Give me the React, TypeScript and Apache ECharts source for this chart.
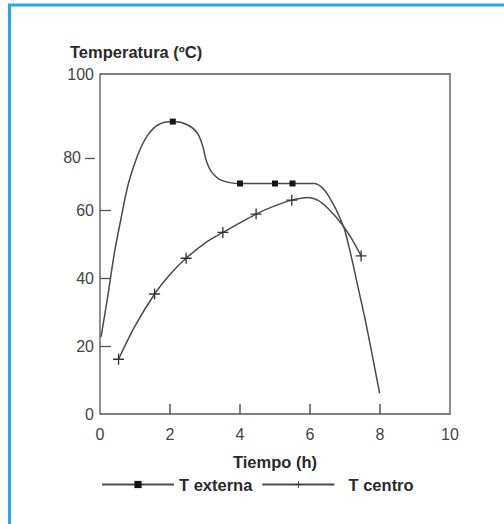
import React, { useEffect, useRef } from "react";
import * as echarts from "echarts";

// T externa (external temperature) – x: hours, y: °C, mark: 1 = marker drawn
const extX = [0.03, 0.22, 0.41, 0.61, 0.79, 0.99, 1.18, 1.37, 1.65, 2.08, 2.51, 2.79, 2.94, 3.03, 3.18, 3.46, 4.0, 5.0, 5.5, 6.13, 6.41, 6.65, 6.84, 6.99, 7.18, 7.37, 7.56, 7.75, 7.99];
const extY = [22.7, 34.5, 47.3, 58.0, 66.9, 73.7, 78.6, 82.1, 85.0, 86.0, 85.0, 82.5, 78.6, 74.7, 71.3, 68.8, 67.8, 67.8, 67.8, 67.8, 65.9, 62.0, 58.0, 54.1, 46.3, 37.4, 28.6, 18.8, 6.1];
const extMark = [0, 0, 0, 0, 0, 0, 0, 0, 0, 1, 0, 0, 0, 0, 0, 0, 1, 1, 1, 0, 0, 0, 0, 0, 0, 0, 0, 0, 0];

// T centro (core temperature)
const cenX = [0.53, 0.99, 1.56, 2.03, 2.46, 2.99, 3.51, 4.46, 4.99, 5.48, 5.94, 6.22, 6.51, 6.89, 7.18, 7.46];
const cenY = [16.1, 25.7, 35.3, 41.4, 45.8, 50.2, 53.4, 58.8, 61.2, 62.9, 63.7, 62.9, 60.5, 56.1, 51.7, 46.5];
const cenMark = [1, 0, 1, 0, 1, 0, 1, 1, 0, 1, 0, 0, 0, 0, 0, 1];

const xTicks = [0, 2, 4, 6, 8, 10];
const yLabels = [0, 20, 40, 60, 100];
const yInnerTicks = [20, 40, 60];
const y80Pos = [75.3];

const seriesNames = ["T externa", "T centro"];
const titleText = "Temperatura (ºC)";
const xName = "Tiempo (h)";

const FONT = "'Liberation Sans', Arial, sans-serif";
const PLUS = "path://M4.4,0H5.6V4.4H10V5.6H5.6V10H4.4V5.6H0V4.4H4.4Z";

function build(xs: number[], ys: number[], marks: number[]) {
  return xs.map((x, i) =>
    marks[i] ? { value: [x, ys[i]] } : { value: [x, ys[i]], symbol: "none" }
  );
}

export default function App() {
  const ref = useRef<HTMLDivElement>(null);
  useEffect(() => {
    if (!ref.current) return;
    const chart = echarts.init(ref.current, undefined, { renderer: "svg" });
    const boldText = { fontFamily: FONT, fontSize: 16.5, fontWeight: "bold", color: "#2a2a2a" };
    const tickText = { fontSize: 16, color: "#444", fontFamily: FONT };
    chart.setOption({
      animation: false,
      backgroundColor: "#ffffff",
      textStyle: { fontFamily: FONT },
      title: {
        text: titleText,
        left: 70,
        top: 43,
        padding: 0,
        textStyle: boldText,
      },
      graphic: [
        {
          type: "rect",
          shape: { x: 9.5, y: 5, width: 620, height: 640 },
          style: { fill: "none", stroke: "#22a9e8", lineWidth: 3 },
          silent: true,
        },
      ],
      legend: {
        left: 101,
        top: 476,
        itemWidth: 72,
        itemHeight: 9,
        itemGap: 9,
        padding: 0,
        data: seriesNames,
        formatter: (n: string) => (n === seriesNames[1] ? "  " + n : n),
        textStyle: boldText,
      },
      grid: {
        left: 100,
        top: 74,
        width: 350,
        height: 340,
        show: true,
        borderColor: "#555",
        borderWidth: 1.3,
        backgroundColor: "transparent",
      },
      xAxis: {
        type: "value",
        min: 0,
        max: 10,
        interval: 2,
        name: xName,
        nameLocation: "middle",
        nameGap: 39,
        nameTextStyle: boldText,
        axisLine: { show: false },
        axisTick: { show: true, inside: true, length: 10, customValues: [2, 4, 6, 8], lineStyle: { color: "#555", width: 1.5 } },
        axisLabel: { margin: 12, ...tickText, customValues: xTicks },
        splitLine: { show: false },
      },
      yAxis: [
        {
          type: "value",
          min: 0,
          max: 100,
          interval: 20,
          axisLine: { show: false },
          axisTick: { show: true, inside: true, length: 11, customValues: yInnerTicks, lineStyle: { color: "#555", width: 1.3 } },
          axisLabel: { margin: 6, ...tickText, customValues: yLabels },
          splitLine: { show: false },
        },
        {
          type: "value",
          min: 0,
          max: 100,
          position: "left",
          offset: 5,
          axisLine: { show: false },
          axisTick: { show: true, inside: false, length: 10, customValues: y80Pos, lineStyle: { color: "#555", width: 1.3 } },
          axisLabel: {
            margin: 14,
            ...tickText,
            customValues: y80Pos,
            formatter: () => "80",
          },
          splitLine: { show: false },
        },
      ],
      series: [
        {
          name: seriesNames[0],
          type: "line",
          smooth: 0.3,
          yAxisIndex: 0,
          symbol: "rect",
          symbolSize: 6,
          showAllSymbol: true,
          lineStyle: { color: "#4a4a4a", width: 1.5 },
          itemStyle: { color: "#151515" },
          data: build(extX, extY, extMark),
        },
        {
          name: seriesNames[1],
          type: "line",
          smooth: 0.3,
          yAxisIndex: 0,
          symbol: PLUS,
          symbolSize: 11,
          showAllSymbol: true,
          lineStyle: { color: "#4a4a4a", width: 1.5 },
          itemStyle: { color: "#333" },
          data: build(cenX, cenY, cenMark),
        },
      ],
    });
    return () => chart.dispose();
  }, []);
  return (
    <div
      ref={ref}
      style={{ position: "absolute", left: 0, top: 0, width: 504, height: 524 }}
    />
  );
}
